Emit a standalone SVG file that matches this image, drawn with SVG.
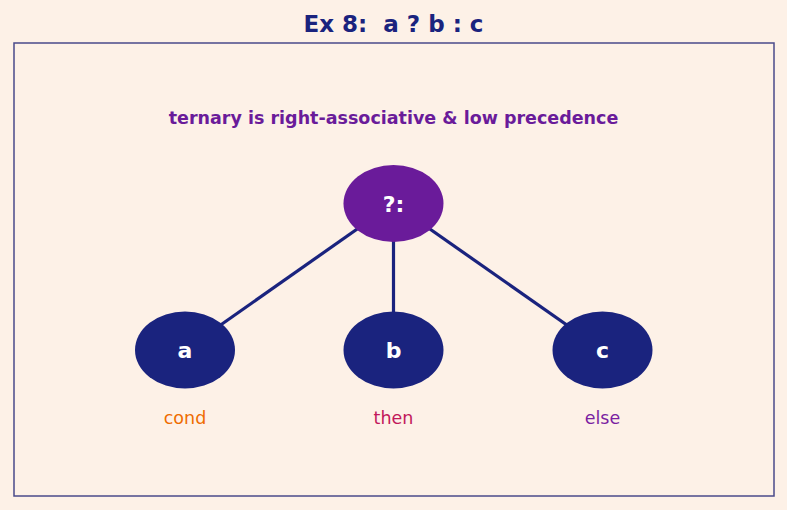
<svg xmlns="http://www.w3.org/2000/svg" width="787" height="510" viewBox="0 0 787 510">
<style>
text{font-family:"DejaVu Sans","Liberation Sans",sans-serif;text-anchor:middle}
.t{font-size:23px;font-weight:bold;fill:#1a237e;white-space:pre}
.s{font-size:17.5px;font-weight:bold;fill:#6a1b9a}
.n{font-size:22px;font-weight:bold;fill:#ffffff}
.l{font-size:17.5px}
.edge{stroke:#1a237e;stroke-width:3.2;fill:none}
</style>
<rect width="787" height="510" fill="#fdf1e7"/>
<text class="t" x="393.5" y="32" xml:space="preserve">Ex 8:  a ? b : c</text>
<rect x="14" y="43" width="760" height="453" fill="none" stroke="#4a4a8a" stroke-width="1.5"/>
<text class="s" x="393.5" y="124">ternary is right-associative &amp; low precedence</text>
<g id="connectors">
<line class="edge" x1="393.5" y1="203.5" x2="185" y2="350"/>
<line class="edge" x1="393.5" y1="203.5" x2="393.5" y2="350"/>
<line class="edge" x1="393.5" y1="203.5" x2="602.5" y2="350"/>
</g>
<g id="op">
<ellipse cx="393.5" cy="203.5" rx="50" ry="38.5" fill="#6a1b9a"/>
<text class="n" x="393.5" y="211.5">?:</text>
</g>
<g id="a">
<ellipse cx="185" cy="350" rx="50" ry="38.5" fill="#1a237e"/>
<text class="n" x="185" y="358">a</text>
<text class="l" x="185" y="423.5" fill="#ef6c00">cond</text>
</g>
<g id="b">
<ellipse cx="393.5" cy="350" rx="50" ry="38.5" fill="#1a237e"/>
<text class="n" x="393.5" y="358">b</text>
<text class="l" x="393.5" y="423.5" fill="#c2185b">then</text>
</g>
<g id="c">
<ellipse cx="602.5" cy="350" rx="50" ry="38.5" fill="#1a237e"/>
<text class="n" x="602.5" y="358">c</text>
<text class="l" x="602.5" y="423.5" fill="#7b1fa2">else</text>
</g>
</svg>
